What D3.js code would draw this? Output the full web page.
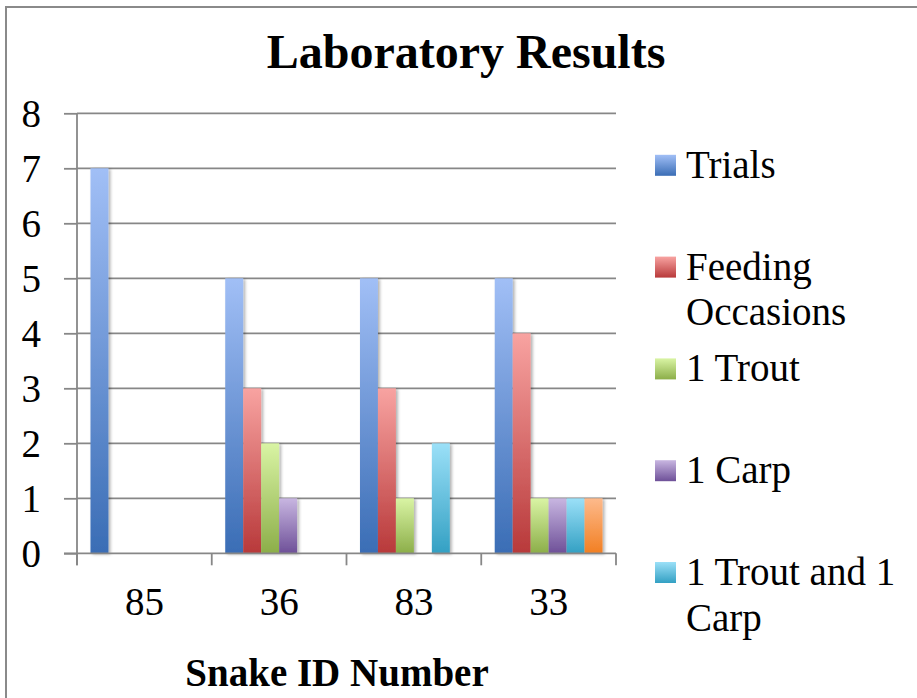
<!DOCTYPE html>
<html><head><meta charset="utf-8">
<script src="https://cdn.jsdelivr.net/npm/d3@7/dist/d3.min.js"></script>
<style>
html,body{margin:0;padding:0;background:#fff;}
svg{display:block;}
text{font-family:"Liberation Serif","Times New Roman",serif;fill:#000;}
</style></head>
<body>
<script>
// ---- data ----
const categories = ["85", "36", "83", "33"];
const seriesNames = ["Trials", "Feeding Occasions", "1 Trout", "1 Carp", "1 Trout and 1 Carp", "Other"];
const trials =            [7, 5, 5, 5];
const feedingOccasions =  [0, 3, 3, 4];
const oneTrout =          [0, 2, 1, 1];
const oneCarp =           [0, 1, 0, 1];
const troutAndCarp =      [0, 0, 2, 1];
const other =             [0, 0, 0, 1];
const yTicks = [0, 1, 2, 3, 4, 5, 6, 7, 8];
const legendLines = [["Trials"], ["Feeding", "Occasions"], ["1 Trout"], ["1 Carp"], ["1 Trout and 1", "Carp"]];
const seriesValues = [trials, feedingOccasions, oneTrout, oneCarp, troutAndCarp, other];
const gradTop =    ["#a1bff6", "#f8a3a1", "#d9f4a4", "#c8b6e1", "#9be0f8", "#fdba8c"];
const gradBottom = ["#3a6db5", "#b8393a", "#8cae49", "#6e5098", "#33a0c3", "#f27f22"];

const W = 917, H = 698;
const svg = d3.select("body").append("svg").attr("width", W).attr("height", H);
const defs = svg.append("defs");
seriesNames.forEach((s, i) => {
  const g = defs.append("linearGradient").attr("id", "g" + i)
    .attr("x1", 0).attr("y1", 0).attr("x2", 0).attr("y2", 1);
  g.append("stop").attr("offset", "0%").attr("stop-color", gradTop[i]);
  g.append("stop").attr("offset", "100%").attr("stop-color", gradBottom[i]);
});
const f = defs.append("filter").attr("id", "shadow").attr("x", "-20%").attr("y", "-5%").attr("width", "160%").attr("height", "115%");
f.append("feDropShadow").attr("dx", 2).attr("dy", 1).attr("stdDeviation", 1.5).attr("flood-color", "#000").attr("flood-opacity", 0.3);

// chart border
svg.append("rect").attr("x", 6).attr("y", 7).attr("width", W + 10).attr("height", H + 10)
  .attr("fill", "none").attr("stroke", "#8a8a8a").attr("stroke-width", 2);

const plotL = 77, plotR = 616, plotT = 113.3, plotB = 553.3;
const x0 = d3.scaleBand().domain(categories).range([plotL, plotR]).padding(0);
const x1 = d3.scaleBand().domain(seriesNames).range([0, x0.bandwidth()]).paddingInner(0).paddingOuter(0.75);
const y = d3.scaleLinear().domain([0, 8]).range([plotB, plotT]);
const gridColor = "#878787";

// gridlines
svg.append("g").selectAll("line").data(yTicks.filter(d => d > 0)).join("line")
  .attr("x1", plotL).attr("x2", plotR).attr("y1", d => y(d)).attr("y2", d => y(d))
  .attr("stroke", gridColor).attr("stroke-width", 1.8);

// y axis
const yAxis = svg.append("g").attr("transform", `translate(${plotL},0)`)
  .call(d3.axisLeft(y).tickValues(yTicks).tickSize(13).tickPadding(0).tickFormat(d3.format("d")));
yAxis.select(".domain").attr("stroke", gridColor).attr("stroke-width", 1.8).attr("d", `M0,${plotT}V${plotB + 12}`);
yAxis.selectAll(".tick line").attr("stroke", gridColor).attr("stroke-width", 1.8);
yAxis.selectAll(".tick text").attr("x", -36).attr("dy", "0.33em")
  .style("font-family", "Liberation Serif").style("font-size", "39px").attr("fill", "#000");

// bars
const gBars = svg.append("g");
categories.forEach((c, ci) => {
  seriesNames.forEach((s, si) => {
    const v = seriesValues[si][ci];
    if (v <= 0) return;
    gBars.append("rect")
      .attr("x", x0(c) + x1(s)).attr("width", x1.bandwidth())
      .attr("y", y(v)).attr("height", y(0) - y(v))
      .attr("fill", `url(#g${si})`).attr("filter", "url(#shadow)");
  });
});

// x axis
const xAxis = svg.append("g").attr("transform", `translate(0,${plotB})`)
  .call(d3.axisBottom(x0).tickSize(0).tickPadding(0));
xAxis.select(".domain").attr("stroke", gridColor).attr("stroke-width", 1.8).attr("d", `M${plotL - 13},0H${plotR}`);
xAxis.selectAll(".tick text").attr("y", 62).attr("dy", 0)
  .style("font-family", "Liberation Serif").style("font-size", "39px").attr("fill", "#000");
const bounds = categories.map(c => x0(c)).concat([x0.range()[1]]);
xAxis.append("g").selectAll("line").data(bounds).join("line")
  .attr("x1", d => d).attr("x2", d => d).attr("y1", 0).attr("y2", 12)
  .attr("stroke", gridColor).attr("stroke-width", 1.8);

// title
svg.append("text").attr("x", 466).attr("y", 68).attr("text-anchor", "middle")
  .style("font-size", "48px").style("font-weight", "bold").text("Laboratory Results");

// axis title
svg.append("text").attr("x", 337).attr("y", 686).attr("text-anchor", "middle")
  .style("font-size", "39px").style("font-weight", "bold").text("Snake ID Number");

// legend
const leg = svg.append("g");
legendLines.forEach((lines, i) => {
  const cy = 165.3 + i * 101.8;
  leg.append("rect").attr("x", 655).attr("y", cy - 10.5).attr("width", 21).attr("height", 21)
    .attr("fill", `url(#g${i})`);
  const t = leg.append("text").attr("x", 686).attr("y", cy + 12.5).style("font-size", "39px");
  lines.forEach((ln, li) => {
    t.append("tspan").attr("x", 686).attr("dy", li === 0 ? 0 : 45.5).text(ln);
  });
});
</script>
</body></html>
